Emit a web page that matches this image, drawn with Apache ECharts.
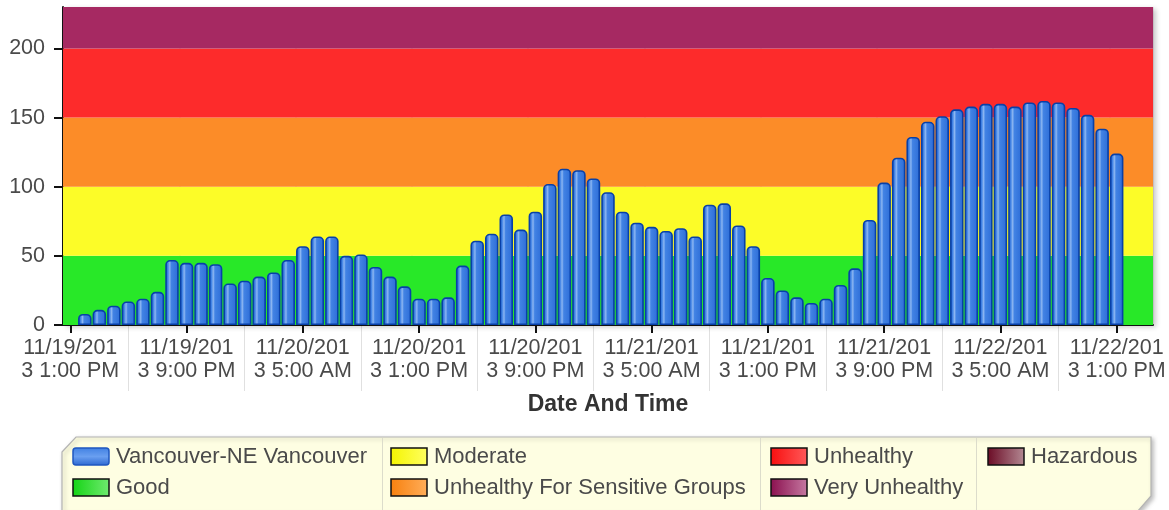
<!DOCTYPE html>
<html>
<head>
<meta charset="utf-8">
<script src="https://cdn.jsdelivr.net/npm/echarts@6/dist/echarts.min.js"></script>
<style>
  html, body { margin: 0; padding: 0; background: #ffffff; }
  #chart { width: 1169px; height: 510px; }
</style>
</head>
<body>
<div id="chart"></div>
<script>
// ---- data ----
// hourly categories from 11/19/2013 1:00 PM to 11/22/2013 3:00 PM (75 hours)
const startDate = new Date(2013, 10, 19, 13, 0, 0);
const hourCount = 75;
const categories = [];
for (let i = 0; i < hourCount; i++) {
  const d = new Date(startDate.getTime() + i * 3600000);
  let h = d.getHours();
  const ampm = h >= 12 ? 'PM' : 'AM';
  h = h % 12; if (h === 0) h = 12;
  categories.push((d.getMonth() + 1) + '/' + d.getDate() + '/' + d.getFullYear() + ' ' + h + ':00 ' + ampm);
}

// AQI readings, Vancouver-NE Vancouver, 11/19/2013 2:00 PM .. 11/22/2013 1:00 PM
const seriesName = 'Vancouver-NE Vancouver';
const aqiValues = [
  8, 11, 14, 17, 19, 24, 47, 45, 45, 44, 30, 32, 35, 38, 47, 57,
  64, 64, 50, 51, 42, 35, 28, 19, 19, 20, 43, 61, 66, 80, 69, 82,
  102, 113, 112, 106, 96, 82, 74, 71, 68, 70, 64, 87, 88, 72, 57, 34,
  25, 20, 16, 19, 29, 41, 76, 103, 121, 136, 147, 151, 156, 158, 160, 160,
  158, 161, 162, 161, 157, 152, 142, 124
];
const firstDataIndex = 1; // first reading falls at 2:00 PM

const tickLabels = [
  '11/19/201\n3 1:00 PM', '11/19/201\n3 9:00 PM', '11/20/201\n3 5:00 AM',
  '11/20/201\n3 1:00 PM', '11/20/201\n3 9:00 PM', '11/21/201\n3 5:00 AM',
  '11/21/201\n3 1:00 PM', '11/21/201\n3 9:00 PM', '11/22/201\n3 5:00 AM',
  '11/22/201\n3 1:00 PM'
];
const yTicks = [0, 50, 100, 150, 200];

const bandNames = ['Good', 'Moderate', 'Unhealthy For Sensitive Groups', 'Unhealthy', 'Very Unhealthy', 'Hazardous'];
const bandLimits = [0, 50, 100, 150, 200, 300, 500];
const bandColors = ['#28E828', '#FCFC28', '#FC8C28', '#FD2B2B', '#A62962', '#7E1032'];

// ---- build ----
const yMax = 230;
const barData = categories.map((c, i) => {
  const k = i - firstDataIndex;
  return (k >= 0 && k < aqiValues.length) ? aqiValues[k] : null;
});

const bandAreas = [];
for (let i = 0; i < bandNames.length; i++) {
  const lo = bandLimits[i], hi = Math.min(bandLimits[i + 1], yMax);
  if (lo >= yMax) continue;
  bandAreas.push([{ yAxis: lo, itemStyle: { color: bandColors[i], opacity: 1 } }, { yAxis: hi }]);
}

const barFill = new echarts.graphic.LinearGradient(0, 0, 1, 0, [
  { offset: 0, color: '#1a55c2' },
  { offset: 0.2, color: '#4586e6' },
  { offset: 0.33, color: '#8cb6f1' },
  { offset: 0.45, color: '#4283e4' },
  { offset: 0.85, color: '#3272da' },
  { offset: 1, color: '#1c58c4' }
]);

function grad(c1, c2) {
  return new echarts.graphic.LinearGradient(0, 0, 1, 0, [
    { offset: 0, color: c1 }, { offset: 1, color: c2 }
  ]);
}

const legendItems = [
  { name: seriesName, x: 73, y: 448, fill: new echarts.graphic.LinearGradient(0, 0, 0, 1, [
      { offset: 0, color: '#3f7fe2' }, { offset: 0.5, color: '#6a9ff0' }, { offset: 1, color: '#2a66d0' }]), stroke: '#1f57c0', r: 3 },
  { name: bandNames[0], x: 73, y: 479, fill: grad('#14d414', '#70ea70'), stroke: '#111', r: 0 },
  { name: bandNames[1], x: 391, y: 448, fill: grad('#f4f400', '#ffff60'), stroke: '#111', r: 0 },
  { name: bandNames[2], x: 391, y: 479, fill: grad('#f7800e', '#ffae5a'), stroke: '#111', r: 0 },
  { name: bandNames[3], x: 771, y: 448, fill: grad('#f80e0e', '#ff5a5a'), stroke: '#111', r: 0 },
  { name: bandNames[4], x: 771, y: 479, fill: grad('#8a0f4e', '#c67aa2'), stroke: '#111', r: 0 },
  { name: bandNames[5], x: 988, y: 448, fill: grad('#6a0a24', '#b48a94'), stroke: '#111', r: 0 }
];

const graphics = [
  {
    type: 'polygon', z: 10,
    shape: { points: [[62, 452], [76, 437], [1151, 437], [1151, 496], [1137, 512], [62, 512]] },
    style: { fill: '#FEFEE2', stroke: '#b4b4b4', lineWidth: 1.2,
      shadowBlur: 4, shadowOffsetX: 2, shadowOffsetY: 2, shadowColor: 'rgba(0,0,0,0.25)' }
  },
  { type: 'line', z: 11, shape: { x1: 382.5, y1: 438, x2: 382.5, y2: 510 }, style: { stroke: '#dcdccb', lineWidth: 1 } },
  { type: 'line', z: 11, shape: { x1: 760.5, y1: 438, x2: 760.5, y2: 510 }, style: { stroke: '#dcdccb', lineWidth: 1 } },
  { type: 'line', z: 11, shape: { x1: 976.5, y1: 438, x2: 976.5, y2: 510 }, style: { stroke: '#dcdccb', lineWidth: 1 } }
];
legendItems.forEach(it => {
  graphics.push({
    type: 'rect', z: 12,
    shape: { x: it.x, y: it.y, width: 36, height: 17, r: it.r },
    style: { fill: it.fill, stroke: it.stroke, lineWidth: 1.5 }
  });
  graphics.push({
    type: 'text', z: 12,
    x: it.x + 43, y: it.y + 9,
    style: { text: it.name, fill: '#4a4a4a', font: '22px "Liberation Sans", Arial, sans-serif',
      verticalAlign: 'middle', align: 'left' }
  });
});

const chart = echarts.init(document.getElementById('chart'), null, { renderer: 'canvas' });
chart.setOption({
  animation: false,
  backgroundColor: '#ffffff',
  textStyle: { fontFamily: '"Liberation Sans", Arial, sans-serif' },
  grid: {
    left: 63, right: 16, top: 7, height: 318, show: true,
    backgroundColor: '#ffffff', borderWidth: 0,
    shadowColor: 'rgba(0,0,0,0.22)', shadowBlur: 5, shadowOffsetX: 3, shadowOffsetY: 2
  },
  xAxis: [
    {
      type: 'category', data: categories, boundaryGap: true,
      name: 'Date And Time', nameLocation: 'middle', nameGap: 68,
      nameTextStyle: { fontSize: 23, fontWeight: 'bold', color: '#333' },
      axisLine: { lineStyle: { color: '#111', width: 2 } },
      axisTick: { show: true, alignWithLabel: true, length: 8, interval: (i) => i % 8 === 0,
        lineStyle: { color: '#111', width: 2 } },
      axisLabel: {
        interval: (i) => i % 8 === 0, margin: 12, fontSize: 21.5, lineHeight: 23, color: '#4a4a4a',
        formatter: (v, i) => (i % 8 === 0 ? tickLabels[i / 8] : '')
      },
      splitLine: { show: true, interval: (i) => i % 8 === 0 && i > 0,
        lineStyle: { color: 'rgba(60,0,40,0.12)', width: 1.5 } }
    },
    {
      type: 'category', data: categories, boundaryGap: true, position: 'bottom',
      axisLine: { show: false },
      axisTick: { show: true, alignWithLabel: true, length: 66, interval: (i) => i % 8 === 4,
        lineStyle: { color: 'rgba(0,0,0,0.12)', width: 1 } },
      axisLabel: { show: false },
      splitLine: { show: false }
    }
  ],
  yAxis: {
    type: 'value', min: 0, max: yMax, interval: 50,
    axisLine: { show: true, lineStyle: { color: '#111', width: 2 } },
    axisTick: { show: true, length: 9, customValues: yTicks, lineStyle: { color: '#111', width: 2 } },
    axisLabel: { customValues: yTicks, margin: 18, fontSize: 21.5, color: '#4a4a4a' },
    splitLine: { show: false }
  },
  series: [
    {
      type: 'line', name: 'bands', data: [], z: 1, silent: true,
      markArea: { silent: true, data: bandAreas }
    },
    {
      type: 'bar', name: seriesName, data: barData, z: 3,
      barWidth: 13.5,
      itemStyle: { color: barFill, borderColor: '#0840a8', borderWidth: 1.6, borderRadius: [4, 4, 0, 0] }
    }
  ],
  graphic: graphics
});
</script>
</body>
</html>
